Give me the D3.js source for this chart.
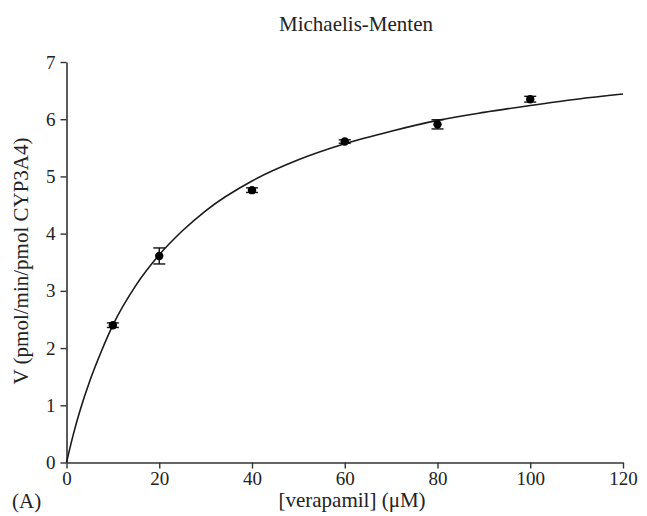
<!DOCTYPE html>
<html>
<head>
<meta charset="utf-8">
<script src="https://cdn.jsdelivr.net/npm/d3@7"></script>
<style>
    body { margin: 0; background: white; }
    text { font-family: "Liberation Serif", "Times New Roman", serif; fill: #222; }
</style>
</head>
<body>
<div id="chart"></div>
<script>
// Measured points (verapamil concentration, velocity, error)
const concentrations = [10, 20, 40, 60, 80, 100];
const velocities = [2.40, 3.61, 4.76, 5.61, 5.91, 6.35];
const errors = [0.04, 0.14, 0.04, 0.03, 0.08, 0.05];

// Fitted curve
const curveX = [0, 1.5, 3, 5, 7.5, 10, 15, 20, 25, 30, 40, 50, 60, 70, 80, 90, 100, 110, 120];
const curveY = [0, 0.50, 0.93, 1.42, 1.94, 2.40, 3.10, 3.63, 4.05, 4.40, 4.92, 5.29, 5.57, 5.79, 5.98, 6.12, 6.24, 6.35, 6.44];

const xTicks = [0, 20, 40, 60, 80, 100, 120];
const yTicks = [0, 1, 2, 3, 4, 5, 6, 7];

const width = 647, height = 516;
const margin = { top: 62, right: 24, bottom: 54, left: 66.5 };

const svg = d3.select("#chart")
    .append("svg")
    .attr("width", width)
    .attr("height", height);

// Scales
const x = d3.scaleLinear().domain([0, 120]).range([margin.left, width - margin.right]);
const y = d3.scaleLinear().domain([0, 7]).range([462.5, margin.top]);

const axisColor = "#333";

// X axis
const xAxis = svg.append("g")
    .attr("transform", `translate(0,${y(0)})`)
    .call(d3.axisBottom(x).tickValues(xTicks).tickFormat(d3.format("d"))
        .tickSize(6).tickSizeOuter(0).tickPadding(3));

// Y axis
const yAxis = svg.append("g")
    .attr("transform", `translate(${x(0)},0)`)
    .call(d3.axisLeft(y).tickValues(yTicks).tickFormat(d3.format("d"))
        .tickSize(6).tickSizeOuter(0).tickPadding(6));

[xAxis, yAxis].forEach(g => {
    g.select(".domain").attr("stroke", axisColor).attr("stroke-width", 1.6);
    g.selectAll(".tick line").attr("stroke", axisColor).attr("stroke-width", 1.4);
    g.selectAll(".tick text")
        .attr("font-family", "Liberation Serif, serif")
        .attr("font-size", 19)
        .attr("fill", "#222");
});
yAxis.selectAll(".tick text").attr("x", -11);

// Fitted curve
const curveData = curveX.map((c, i) => ({ c: c, v: curveY[i] }));
svg.append("path")
    .datum(curveData)
    .attr("fill", "none")
    .attr("stroke", "#1a1a1a")
    .attr("stroke-width", 1.6)
    .attr("d", d3.line().x(d => x(d.c)).y(d => y(d.v)).curve(d3.curveMonotoneX));

// Error bars and points
const pts = concentrations.map((c, i) => ({ c: c, v: velocities[i], e: errors[i] }));

const bars = svg.selectAll(".err")
    .data(pts)
    .enter()
    .append("g")
    .attr("class", "err")
    .attr("stroke", "#111")
    .attr("stroke-width", 1.4);

bars.append("line")
    .attr("x1", d => x(d.c)).attr("x2", d => x(d.c))
    .attr("y1", d => y(d.v - d.e)).attr("y2", d => y(d.v + d.e));
bars.append("line")
    .attr("x1", d => x(d.c) - 6).attr("x2", d => x(d.c) + 6)
    .attr("y1", d => y(d.v + d.e)).attr("y2", d => y(d.v + d.e));
bars.append("line")
    .attr("x1", d => x(d.c) - 6).attr("x2", d => x(d.c) + 6)
    .attr("y1", d => y(d.v - d.e)).attr("y2", d => y(d.v - d.e));

svg.selectAll(".pt")
    .data(pts)
    .enter()
    .append("circle")
    .attr("class", "pt")
    .attr("cx", d => x(d.c))
    .attr("cy", d => y(d.v))
    .attr("r", 4.2)
    .attr("fill", "#000");

// Title and labels
svg.append("text")
    .attr("x", 356)
    .attr("y", 31)
    .attr("text-anchor", "middle")
    .attr("font-size", 21)
    .text("Michaelis-Menten");

svg.append("text")
    .attr("x", 352)
    .attr("y", 507)
    .attr("text-anchor", "middle")
    .attr("font-size", 21)
    .text("[verapamil] (μM)");

svg.append("text")
    .attr("x", 12)
    .attr("y", 508)
    .attr("font-size", 21)
    .text("(A)");

svg.append("text")
    .attr("transform", "translate(28,261) rotate(-90)")
    .attr("text-anchor", "middle")
    .attr("font-size", 21)
    .text("V (pmol/min/pmol CYP3A4)");
</script>
</body>
</html>
